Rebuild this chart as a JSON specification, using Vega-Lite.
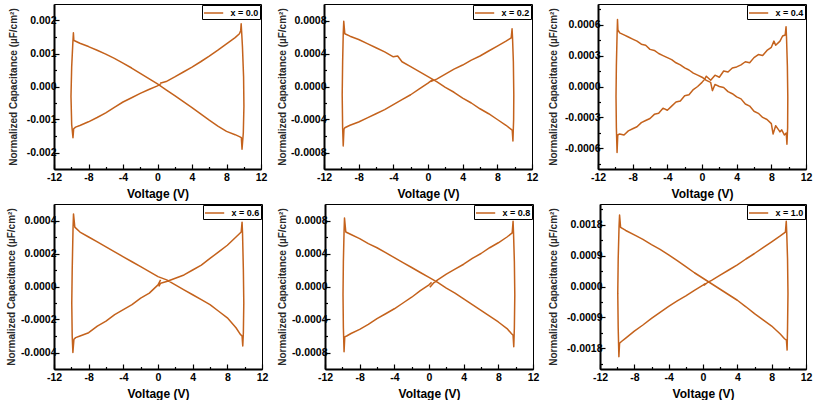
{
  "$schema": "https://vega.github.io/schema/vega-lite/v6.json",
  "padding": {"left": 5, "top": 3, "right": 0, "bottom": 0},
  "config": {
    "view": {"stroke": "black", "strokeWidth": 1},
    "font": "Liberation Sans",
    "locale": {"number": {"decimal": ".", "thousands": ",", "grouping": [3], "currency": ["$", ""], "minus": "-"}},
    "axis": {"grid": false, "domainColor": "black", "domainWidth": 2, "tickColor": "black", "tickWidth": 1.2, "labelFont": "Liberation Sans", "labelFontSize": 10.5, "labelFontWeight": "bold", "labelColor": "black", "titleFont": "Liberation Sans", "titleFontWeight": "bold", "titleColor": "black", "labelFlush": false, "labelOverlap": false},
    "axisX": {"titleFontSize": 12, "labelPadding": 8, "titlePadding": 3},
    "axisY": {"titleFontSize": 10, "titleColor": "#2a2a2a", "labelPadding": 3, "titlePadding": 3},
    "legend": {"orient": "top-right", "offset": 1, "title": null, "strokeColor": "black", "fillColor": "white", "padding": 1, "symbolType": "M-1.6,0L1.6,0", "symbolSize": 144, "symbolOffset": 3.6, "symbolStrokeWidth": 1.5, "labelOffset": 10, "labelFont": "Liberation Sans", "labelFontSize": 9, "labelFontWeight": "bold", "labelColor": "black"}
  },
  "resolve": {"scale": {"color": "independent"}, "legend": {"color": "independent"}},
  "data": {"values": [
    {"p":"x = 0.0","i":1,"V":0.3,"C":0.0001},{"p":"x = 0.0","i":2,"V":1,"C":0.00015},{"p":"x = 0.0","i":3,"V":2,"C":0.00029},{"p":"x = 0.0","i":4,"V":3,"C":0.00044},{"p":"x = 0.0","i":5,"V":4,"C":0.00059},{"p":"x = 0.0","i":6,"V":5,"C":0.00075},{"p":"x = 0.0","i":7,"V":6,"C":0.00092},{"p":"x = 0.0","i":8,"V":7,"C":0.0011},{"p":"x = 0.0","i":9,"V":8,"C":0.00129},{"p":"x = 0.0","i":10,"V":9,"C":0.00148},{"p":"x = 0.0","i":11,"V":9.5,"C":0.0016},{"p":"x = 0.0","i":12,"V":9.65,"C":0.0017},{"p":"x = 0.0","i":13,"V":9.7,"C":0.0019},{"p":"x = 0.0","i":14,"V":9.75,"C":0.00168},{"p":"x = 0.0","i":15,"V":9.85,"C":0.0012},{"p":"x = 0.0","i":16,"V":9.98,"C":0.0003},{"p":"x = 0.0","i":17,"V":10.02,"C":-0.0006},{"p":"x = 0.0","i":18,"V":9.95,"C":-0.0014},{"p":"x = 0.0","i":19,"V":9.8,"C":-0.0019},{"p":"x = 0.0","i":20,"V":9.72,"C":-0.00155},{"p":"x = 0.0","i":21,"V":9.5,"C":-0.00152},{"p":"x = 0.0","i":22,"V":9,"C":-0.00146},{"p":"x = 0.0","i":23,"V":8,"C":-0.00136},{"p":"x = 0.0","i":24,"V":7,"C":-0.0012},{"p":"x = 0.0","i":25,"V":6,"C":-0.00102},{"p":"x = 0.0","i":26,"V":5,"C":-0.00083},{"p":"x = 0.0","i":27,"V":4,"C":-0.00064},{"p":"x = 0.0","i":28,"V":3,"C":-0.00046},{"p":"x = 0.0","i":29,"V":2,"C":-0.00028},{"p":"x = 0.0","i":30,"V":1,"C":-0.0001},{"p":"x = 0.0","i":31,"V":0,"C":0.00008},{"p":"x = 0.0","i":32,"V":-1,"C":0.00024},{"p":"x = 0.0","i":33,"V":-2,"C":0.0004},{"p":"x = 0.0","i":34,"V":-3,"C":0.00056},{"p":"x = 0.0","i":35,"V":-4,"C":0.00071},{"p":"x = 0.0","i":36,"V":-5,"C":0.00085},{"p":"x = 0.0","i":37,"V":-6,"C":0.00098},{"p":"x = 0.0","i":38,"V":-7,"C":0.0011},{"p":"x = 0.0","i":39,"V":-8,"C":0.00121},{"p":"x = 0.0","i":40,"V":-9,"C":0.00131},{"p":"x = 0.0","i":41,"V":-9.55,"C":0.00138},{"p":"x = 0.0","i":42,"V":-9.7,"C":0.0014},{"p":"x = 0.0","i":43,"V":-9.75,"C":0.00163},{"p":"x = 0.0","i":44,"V":-9.82,"C":0.0013},{"p":"x = 0.0","i":45,"V":-9.95,"C":0.0006},{"p":"x = 0.0","i":46,"V":-10.03,"C":-0.0003},{"p":"x = 0.0","i":47,"V":-9.95,"C":-0.00115},{"p":"x = 0.0","i":48,"V":-9.8,"C":-0.00155},{"p":"x = 0.0","i":49,"V":-9.72,"C":-0.00128},{"p":"x = 0.0","i":50,"V":-9.5,"C":-0.00123},{"p":"x = 0.0","i":51,"V":-9,"C":-0.00118},{"p":"x = 0.0","i":52,"V":-8,"C":-0.00107},{"p":"x = 0.0","i":53,"V":-7,"C":-0.00094},{"p":"x = 0.0","i":54,"V":-6,"C":-0.0008},{"p":"x = 0.0","i":55,"V":-5,"C":-0.00063},{"p":"x = 0.0","i":56,"V":-4,"C":-0.00047},{"p":"x = 0.0","i":57,"V":-3,"C":-0.00034},{"p":"x = 0.0","i":58,"V":-2,"C":-0.00021},{"p":"x = 0.0","i":59,"V":-1,"C":-0.00009},{"p":"x = 0.0","i":60,"V":0,"C":0.00002},{"p":"x = 0.0","i":61,"V":0.4,"C":0.00009},

    {"p":"x = 0.2","i":1,"V":0.3,"C":0.00006},{"p":"x = 0.2","i":2,"V":1,"C":0.00009},{"p":"x = 0.2","i":3,"V":2,"C":0.00015},{"p":"x = 0.2","i":4,"V":3,"C":0.00021},{"p":"x = 0.2","i":5,"V":4,"C":0.00026},{"p":"x = 0.2","i":6,"V":5,"C":0.00032},{"p":"x = 0.2","i":7,"V":6,"C":0.00037},{"p":"x = 0.2","i":8,"V":7,"C":0.00043},{"p":"x = 0.2","i":9,"V":8,"C":0.00049},{"p":"x = 0.2","i":10,"V":9,"C":0.00055},{"p":"x = 0.2","i":11,"V":9.6,"C":0.00059},{"p":"x = 0.2","i":12,"V":9.7,"C":0.0007},{"p":"x = 0.2","i":13,"V":9.75,"C":0.0006},{"p":"x = 0.2","i":14,"V":9.85,"C":0.0003},{"p":"x = 0.2","i":15,"V":9.9,"C":-0.0001},{"p":"x = 0.2","i":16,"V":9.88,"C":-0.0004},{"p":"x = 0.2","i":17,"V":9.8,"C":-0.00066},{"p":"x = 0.2","i":18,"V":9.72,"C":-0.00053},{"p":"x = 0.2","i":19,"V":9.6,"C":-0.00052},{"p":"x = 0.2","i":20,"V":9,"C":-0.00047},{"p":"x = 0.2","i":21,"V":8,"C":-0.0004},{"p":"x = 0.2","i":22,"V":7,"C":-0.00033},{"p":"x = 0.2","i":23,"V":6,"C":-0.00027},{"p":"x = 0.2","i":24,"V":5,"C":-0.0002},{"p":"x = 0.2","i":25,"V":4,"C":-0.00014},{"p":"x = 0.2","i":26,"V":3,"C":-0.00007},{"p":"x = 0.2","i":27,"V":2,"C":-0.00001},{"p":"x = 0.2","i":28,"V":1,"C":0.00006},{"p":"x = 0.2","i":29,"V":0,"C":0.00012},{"p":"x = 0.2","i":30,"V":-1,"C":0.00018},{"p":"x = 0.2","i":31,"V":-2,"C":0.00024},{"p":"x = 0.2","i":32,"V":-3,"C":0.0003},{"p":"x = 0.2","i":33,"V":-3.5,"C":0.00037},{"p":"x = 0.2","i":34,"V":-4,"C":0.00036},{"p":"x = 0.2","i":35,"V":-5,"C":0.00042},{"p":"x = 0.2","i":36,"V":-6,"C":0.00047},{"p":"x = 0.2","i":37,"V":-7,"C":0.00052},{"p":"x = 0.2","i":38,"V":-8,"C":0.00057},{"p":"x = 0.2","i":39,"V":-9,"C":0.00061},{"p":"x = 0.2","i":40,"V":-9.6,"C":0.00064},{"p":"x = 0.2","i":41,"V":-9.72,"C":0.00079},{"p":"x = 0.2","i":42,"V":-9.78,"C":0.00064},{"p":"x = 0.2","i":43,"V":-9.85,"C":0.0003},{"p":"x = 0.2","i":44,"V":-9.9,"C":-0.0001},{"p":"x = 0.2","i":45,"V":-9.85,"C":-0.0005},{"p":"x = 0.2","i":46,"V":-9.78,"C":-0.00072},{"p":"x = 0.2","i":47,"V":-9.7,"C":-0.00052},{"p":"x = 0.2","i":48,"V":-9.6,"C":-0.0005},{"p":"x = 0.2","i":49,"V":-9,"C":-0.00047},{"p":"x = 0.2","i":50,"V":-8,"C":-0.00043},{"p":"x = 0.2","i":51,"V":-7,"C":-0.00038},{"p":"x = 0.2","i":52,"V":-6,"C":-0.00033},{"p":"x = 0.2","i":53,"V":-5,"C":-0.00028},{"p":"x = 0.2","i":54,"V":-4,"C":-0.00022},{"p":"x = 0.2","i":55,"V":-3,"C":-0.00016},{"p":"x = 0.2","i":56,"V":-2,"C":-0.0001},{"p":"x = 0.2","i":57,"V":-1,"C":-0.00003},{"p":"x = 0.2","i":58,"V":0,"C":0.00004},{"p":"x = 0.2","i":59,"V":0.5,"C":0.00008},

    {"p":"x = 0.4","i":1,"V":0.3,"C":0.00007},{"p":"x = 0.4","i":2,"V":0.5,"C":0.0001},{"p":"x = 0.4","i":3,"V":1,"C":0.00006},{"p":"x = 0.4","i":4,"V":1.5,"C":0.00011},{"p":"x = 0.4","i":5,"V":2,"C":0.00009},{"p":"x = 0.4","i":6,"V":2.5,"C":0.00015},{"p":"x = 0.4","i":7,"V":3,"C":0.00014},{"p":"x = 0.4","i":8,"V":3.5,"C":0.00018},{"p":"x = 0.4","i":9,"V":4,"C":0.00019},{"p":"x = 0.4","i":10,"V":4.5,"C":0.00021},{"p":"x = 0.4","i":11,"V":5,"C":0.00024},{"p":"x = 0.4","i":12,"V":5.5,"C":0.00023},{"p":"x = 0.4","i":13,"V":6,"C":0.00028},{"p":"x = 0.4","i":14,"V":6.5,"C":0.00031},{"p":"x = 0.4","i":15,"V":7,"C":0.0003},{"p":"x = 0.4","i":16,"V":7.5,"C":0.00035},{"p":"x = 0.4","i":17,"V":8,"C":0.00038},{"p":"x = 0.4","i":18,"V":8.3,"C":0.00044},{"p":"x = 0.4","i":19,"V":8.5,"C":0.0004},{"p":"x = 0.4","i":20,"V":9,"C":0.00044},{"p":"x = 0.4","i":21,"V":9.3,"C":0.00049},{"p":"x = 0.4","i":22,"V":9.6,"C":0.0005},{"p":"x = 0.4","i":23,"V":9.7,"C":0.00058},{"p":"x = 0.4","i":24,"V":9.75,"C":0.00048},{"p":"x = 0.4","i":25,"V":9.85,"C":0.0002},{"p":"x = 0.4","i":26,"V":9.9,"C":-0.0001},{"p":"x = 0.4","i":27,"V":9.88,"C":-0.0004},{"p":"x = 0.4","i":28,"V":9.8,"C":-0.00056},{"p":"x = 0.4","i":29,"V":9.72,"C":-0.00045},{"p":"x = 0.4","i":30,"V":9.5,"C":-0.00047},{"p":"x = 0.4","i":31,"V":9.2,"C":-0.00042},{"p":"x = 0.4","i":32,"V":9,"C":-0.00044},{"p":"x = 0.4","i":33,"V":8.5,"C":-0.00038},{"p":"x = 0.4","i":34,"V":8.2,"C":-0.00046},{"p":"x = 0.4","i":35,"V":8,"C":-0.00036},{"p":"x = 0.4","i":36,"V":7.5,"C":-0.00032},{"p":"x = 0.4","i":37,"V":7,"C":-0.0003},{"p":"x = 0.4","i":38,"V":6.5,"C":-0.00026},{"p":"x = 0.4","i":39,"V":6,"C":-0.00024},{"p":"x = 0.4","i":40,"V":5.5,"C":-0.00019},{"p":"x = 0.4","i":41,"V":5,"C":-0.00017},{"p":"x = 0.4","i":42,"V":4.5,"C":-0.00012},{"p":"x = 0.4","i":43,"V":4,"C":-0.0001},{"p":"x = 0.4","i":44,"V":3.5,"C":-0.00007},{"p":"x = 0.4","i":45,"V":3,"C":-0.00005},{"p":"x = 0.4","i":46,"V":2.5,"C":-0.00001},{"p":"x = 0.4","i":47,"V":2,"C":0},{"p":"x = 0.4","i":48,"V":1.5,"C":0.00002},{"p":"x = 0.4","i":49,"V":1.2,"C":-0.00004},{"p":"x = 0.4","i":50,"V":1,"C":0.00004},{"p":"x = 0.4","i":51,"V":0.5,"C":0.00006},{"p":"x = 0.4","i":52,"V":0,"C":0.00009},{"p":"x = 0.4","i":53,"V":-0.5,"C":0.00011},{"p":"x = 0.4","i":54,"V":-1,"C":0.00013},{"p":"x = 0.4","i":55,"V":-1.5,"C":0.00016},{"p":"x = 0.4","i":56,"V":-2,"C":0.00018},{"p":"x = 0.4","i":57,"V":-2.5,"C":0.00021},{"p":"x = 0.4","i":58,"V":-3,"C":0.00023},{"p":"x = 0.4","i":59,"V":-3.5,"C":0.00026},{"p":"x = 0.4","i":60,"V":-4,"C":0.00028},{"p":"x = 0.4","i":61,"V":-4.5,"C":0.0003},{"p":"x = 0.4","i":62,"V":-5,"C":0.00032},{"p":"x = 0.4","i":63,"V":-5.5,"C":0.00035},{"p":"x = 0.4","i":64,"V":-6,"C":0.00036},{"p":"x = 0.4","i":65,"V":-6.5,"C":0.0004},{"p":"x = 0.4","i":66,"V":-7,"C":0.00041},{"p":"x = 0.4","i":67,"V":-7.5,"C":0.00044},{"p":"x = 0.4","i":68,"V":-8,"C":0.00046},{"p":"x = 0.4","i":69,"V":-8.5,"C":0.00048},{"p":"x = 0.4","i":70,"V":-9,"C":0.0005},{"p":"x = 0.4","i":71,"V":-9.5,"C":0.00052},{"p":"x = 0.4","i":72,"V":-9.7,"C":0.00055},{"p":"x = 0.4","i":73,"V":-9.75,"C":0.00065},{"p":"x = 0.4","i":74,"V":-9.8,"C":0.0005},{"p":"x = 0.4","i":75,"V":-9.88,"C":0.0002},{"p":"x = 0.4","i":76,"V":-9.92,"C":-0.0001},{"p":"x = 0.4","i":77,"V":-9.88,"C":-0.0004},{"p":"x = 0.4","i":78,"V":-9.8,"C":-0.00064},{"p":"x = 0.4","i":79,"V":-9.72,"C":-0.00047},{"p":"x = 0.4","i":80,"V":-9.5,"C":-0.00046},{"p":"x = 0.4","i":81,"V":-9,"C":-0.00047},{"p":"x = 0.4","i":82,"V":-8.5,"C":-0.00043},{"p":"x = 0.4","i":83,"V":-8,"C":-0.00041},{"p":"x = 0.4","i":84,"V":-7.5,"C":-0.00039},{"p":"x = 0.4","i":85,"V":-7,"C":-0.00035},{"p":"x = 0.4","i":86,"V":-6.5,"C":-0.00033},{"p":"x = 0.4","i":87,"V":-6,"C":-0.00031},{"p":"x = 0.4","i":88,"V":-5.5,"C":-0.00027},{"p":"x = 0.4","i":89,"V":-5,"C":-0.00026},{"p":"x = 0.4","i":90,"V":-4.5,"C":-0.00021},{"p":"x = 0.4","i":91,"V":-4,"C":-0.00023},{"p":"x = 0.4","i":92,"V":-3.5,"C":-0.00019},{"p":"x = 0.4","i":93,"V":-3,"C":-0.00015},{"p":"x = 0.4","i":94,"V":-2.5,"C":-0.00014},{"p":"x = 0.4","i":95,"V":-2,"C":-0.00009},{"p":"x = 0.4","i":96,"V":-1.5,"C":-0.00008},{"p":"x = 0.4","i":97,"V":-1,"C":-0.00003},{"p":"x = 0.4","i":98,"V":-0.5,"C":0},{"p":"x = 0.4","i":99,"V":0,"C":0.00004},{"p":"x = 0.4","i":100,"V":0.3,"C":0.00007},

    {"p":"x = 0.6","i":1,"V":0.1,"C":0},{"p":"x = 0.6","i":2,"V":0.3,"C":0.00002},{"p":"x = 0.6","i":3,"V":1,"C":0.00003},{"p":"x = 0.6","i":4,"V":2,"C":0.00005},{"p":"x = 0.6","i":5,"V":3,"C":0.00007},{"p":"x = 0.6","i":6,"V":4,"C":0.0001},{"p":"x = 0.6","i":7,"V":5,"C":0.00013},{"p":"x = 0.6","i":8,"V":6,"C":0.00017},{"p":"x = 0.6","i":9,"V":7,"C":0.00021},{"p":"x = 0.6","i":10,"V":8,"C":0.00025},{"p":"x = 0.6","i":11,"V":9,"C":0.0003},{"p":"x = 0.6","i":12,"V":9.6,"C":0.00033},{"p":"x = 0.6","i":13,"V":9.7,"C":0.00039},{"p":"x = 0.6","i":14,"V":9.75,"C":0.00033},{"p":"x = 0.6","i":15,"V":9.85,"C":0.0001},{"p":"x = 0.6","i":16,"V":9.9,"C":-0.0001},{"p":"x = 0.6","i":17,"V":9.85,"C":-0.00028},{"p":"x = 0.6","i":18,"V":9.78,"C":-0.00036},{"p":"x = 0.6","i":19,"V":9.7,"C":-0.0003},{"p":"x = 0.6","i":20,"V":9.5,"C":-0.00029},{"p":"x = 0.6","i":21,"V":9,"C":-0.00025},{"p":"x = 0.6","i":22,"V":8,"C":-0.00019},{"p":"x = 0.6","i":23,"V":7,"C":-0.00015},{"p":"x = 0.6","i":24,"V":6,"C":-0.00011},{"p":"x = 0.6","i":25,"V":5,"C":-0.00008},{"p":"x = 0.6","i":26,"V":4,"C":-0.00005},{"p":"x = 0.6","i":27,"V":3,"C":-0.00002},{"p":"x = 0.6","i":28,"V":2,"C":0.00001},{"p":"x = 0.6","i":29,"V":1,"C":0.00004},{"p":"x = 0.6","i":30,"V":0,"C":0.00006},{"p":"x = 0.6","i":31,"V":-1,"C":0.00009},{"p":"x = 0.6","i":32,"V":-2,"C":0.00012},{"p":"x = 0.6","i":33,"V":-3,"C":0.00015},{"p":"x = 0.6","i":34,"V":-4,"C":0.00018},{"p":"x = 0.6","i":35,"V":-5,"C":0.00021},{"p":"x = 0.6","i":36,"V":-6,"C":0.00024},{"p":"x = 0.6","i":37,"V":-7,"C":0.00027},{"p":"x = 0.6","i":38,"V":-8,"C":0.0003},{"p":"x = 0.6","i":39,"V":-9,"C":0.00033},{"p":"x = 0.6","i":40,"V":-9.6,"C":0.00036},{"p":"x = 0.6","i":41,"V":-9.75,"C":0.00044},{"p":"x = 0.6","i":42,"V":-9.8,"C":0.00036},{"p":"x = 0.6","i":43,"V":-9.9,"C":0.0001},{"p":"x = 0.6","i":44,"V":-9.95,"C":-0.0001},{"p":"x = 0.6","i":45,"V":-9.9,"C":-0.0003},{"p":"x = 0.6","i":46,"V":-9.82,"C":-0.0004},{"p":"x = 0.6","i":47,"V":-9.7,"C":-0.00032},{"p":"x = 0.6","i":48,"V":-9.5,"C":-0.00031},{"p":"x = 0.6","i":49,"V":-9,"C":-0.0003},{"p":"x = 0.6","i":50,"V":-8,"C":-0.00028},{"p":"x = 0.6","i":51,"V":-7,"C":-0.00024},{"p":"x = 0.6","i":52,"V":-6,"C":-0.00021},{"p":"x = 0.6","i":53,"V":-5,"C":-0.00017},{"p":"x = 0.6","i":54,"V":-4,"C":-0.00014},{"p":"x = 0.6","i":55,"V":-3,"C":-0.00011},{"p":"x = 0.6","i":56,"V":-2,"C":-0.00007},{"p":"x = 0.6","i":57,"V":-1,"C":-0.00004},{"p":"x = 0.6","i":58,"V":0,"C":0.00001},{"p":"x = 0.6","i":59,"V":0.3,"C":0.00004},

    {"p":"x = 0.8","i":1,"V":0.1,"C":-0.00001},{"p":"x = 0.8","i":2,"V":0.5,"C":0.00004},{"p":"x = 0.8","i":3,"V":1,"C":0.00008},{"p":"x = 0.8","i":4,"V":2,"C":0.00015},{"p":"x = 0.8","i":5,"V":3,"C":0.00021},{"p":"x = 0.8","i":6,"V":4,"C":0.00027},{"p":"x = 0.8","i":7,"V":5,"C":0.00034},{"p":"x = 0.8","i":8,"V":6,"C":0.0004},{"p":"x = 0.8","i":9,"V":7,"C":0.00047},{"p":"x = 0.8","i":10,"V":8,"C":0.00053},{"p":"x = 0.8","i":11,"V":9,"C":0.0006},{"p":"x = 0.8","i":12,"V":9.6,"C":0.00065},{"p":"x = 0.8","i":13,"V":9.7,"C":0.00079},{"p":"x = 0.8","i":14,"V":9.75,"C":0.00066},{"p":"x = 0.8","i":15,"V":9.85,"C":0.0003},{"p":"x = 0.8","i":16,"V":9.9,"C":-0.0001},{"p":"x = 0.8","i":17,"V":9.85,"C":-0.0005},{"p":"x = 0.8","i":18,"V":9.78,"C":-0.00073},{"p":"x = 0.8","i":19,"V":9.7,"C":-0.00059},{"p":"x = 0.8","i":20,"V":9.5,"C":-0.00057},{"p":"x = 0.8","i":21,"V":9,"C":-0.00051},{"p":"x = 0.8","i":22,"V":8,"C":-0.00043},{"p":"x = 0.8","i":23,"V":7,"C":-0.00036},{"p":"x = 0.8","i":24,"V":6,"C":-0.00029},{"p":"x = 0.8","i":25,"V":5,"C":-0.00022},{"p":"x = 0.8","i":26,"V":4,"C":-0.00015},{"p":"x = 0.8","i":27,"V":3,"C":-0.00008},{"p":"x = 0.8","i":28,"V":2,"C":-0.00002},{"p":"x = 0.8","i":29,"V":1,"C":0.00005},{"p":"x = 0.8","i":30,"V":0,"C":0.00011},{"p":"x = 0.8","i":31,"V":-1,"C":0.00017},{"p":"x = 0.8","i":32,"V":-2,"C":0.00023},{"p":"x = 0.8","i":33,"V":-3,"C":0.00029},{"p":"x = 0.8","i":34,"V":-4,"C":0.00035},{"p":"x = 0.8","i":35,"V":-5,"C":0.00041},{"p":"x = 0.8","i":36,"V":-6,"C":0.00047},{"p":"x = 0.8","i":37,"V":-7,"C":0.00052},{"p":"x = 0.8","i":38,"V":-8,"C":0.00058},{"p":"x = 0.8","i":39,"V":-9,"C":0.00063},{"p":"x = 0.8","i":40,"V":-9.6,"C":0.00066},{"p":"x = 0.8","i":41,"V":-9.75,"C":0.00083},{"p":"x = 0.8","i":42,"V":-9.8,"C":0.00067},{"p":"x = 0.8","i":43,"V":-9.88,"C":0.0003},{"p":"x = 0.8","i":44,"V":-9.92,"C":-0.0001},{"p":"x = 0.8","i":45,"V":-9.88,"C":-0.0005},{"p":"x = 0.8","i":46,"V":-9.8,"C":-0.00079},{"p":"x = 0.8","i":47,"V":-9.72,"C":-0.00061},{"p":"x = 0.8","i":48,"V":-9.5,"C":-0.0006},{"p":"x = 0.8","i":49,"V":-9,"C":-0.00057},{"p":"x = 0.8","i":50,"V":-8,"C":-0.00052},{"p":"x = 0.8","i":51,"V":-7,"C":-0.00046},{"p":"x = 0.8","i":52,"V":-6,"C":-0.00039},{"p":"x = 0.8","i":53,"V":-5,"C":-0.00033},{"p":"x = 0.8","i":54,"V":-4,"C":-0.00027},{"p":"x = 0.8","i":55,"V":-3,"C":-0.0002},{"p":"x = 0.8","i":56,"V":-2,"C":-0.00013},{"p":"x = 0.8","i":57,"V":-1,"C":-0.00005},{"p":"x = 0.8","i":58,"V":0,"C":0.00002},{"p":"x = 0.8","i":59,"V":0.3,"C":0.00005},

    {"p":"x = 1.0","i":1,"V":0.1,"C":0.00003},{"p":"x = 1.0","i":2,"V":0.5,"C":0.00011},{"p":"x = 1.0","i":3,"V":1,"C":0.00018},{"p":"x = 1.0","i":4,"V":2,"C":0.00033},{"p":"x = 1.0","i":5,"V":3,"C":0.00048},{"p":"x = 1.0","i":6,"V":4,"C":0.00063},{"p":"x = 1.0","i":7,"V":5,"C":0.0008},{"p":"x = 1.0","i":8,"V":6,"C":0.00096},{"p":"x = 1.0","i":9,"V":7,"C":0.00113},{"p":"x = 1.0","i":10,"V":8,"C":0.0013},{"p":"x = 1.0","i":11,"V":9,"C":0.00147},{"p":"x = 1.0","i":12,"V":9.6,"C":0.00158},{"p":"x = 1.0","i":13,"V":9.7,"C":0.0019},{"p":"x = 1.0","i":14,"V":9.75,"C":0.0016},{"p":"x = 1.0","i":15,"V":9.85,"C":0.0008},{"p":"x = 1.0","i":16,"V":9.9,"C":-0.0002},{"p":"x = 1.0","i":17,"V":9.85,"C":-0.0012},{"p":"x = 1.0","i":18,"V":9.8,"C":-0.00185},{"p":"x = 1.0","i":19,"V":9.72,"C":-0.00156},{"p":"x = 1.0","i":20,"V":9.5,"C":-0.00152},{"p":"x = 1.0","i":21,"V":9,"C":-0.00138},{"p":"x = 1.0","i":22,"V":8,"C":-0.00115},{"p":"x = 1.0","i":23,"V":7,"C":-0.00097},{"p":"x = 1.0","i":24,"V":6,"C":-0.00079},{"p":"x = 1.0","i":25,"V":5,"C":-0.00059},{"p":"x = 1.0","i":26,"V":4,"C":-0.0004},{"p":"x = 1.0","i":27,"V":3,"C":-0.00024},{"p":"x = 1.0","i":28,"V":2,"C":-0.00008},{"p":"x = 1.0","i":29,"V":1,"C":0.00008},{"p":"x = 1.0","i":30,"V":0,"C":0.00024},{"p":"x = 1.0","i":31,"V":-1,"C":0.0004},{"p":"x = 1.0","i":32,"V":-2,"C":0.00058},{"p":"x = 1.0","i":33,"V":-3,"C":0.00075},{"p":"x = 1.0","i":34,"V":-4,"C":0.00092},{"p":"x = 1.0","i":35,"V":-5,"C":0.00108},{"p":"x = 1.0","i":36,"V":-6,"C":0.00122},{"p":"x = 1.0","i":37,"V":-7,"C":0.00137},{"p":"x = 1.0","i":38,"V":-8,"C":0.0015},{"p":"x = 1.0","i":39,"V":-9,"C":0.00163},{"p":"x = 1.0","i":40,"V":-9.6,"C":0.00172},{"p":"x = 1.0","i":41,"V":-9.72,"C":0.00208},{"p":"x = 1.0","i":42,"V":-9.78,"C":0.00175},{"p":"x = 1.0","i":43,"V":-9.88,"C":0.0008},{"p":"x = 1.0","i":44,"V":-9.93,"C":-0.0002},{"p":"x = 1.0","i":45,"V":-9.88,"C":-0.0012},{"p":"x = 1.0","i":46,"V":-9.8,"C":-0.00204},{"p":"x = 1.0","i":47,"V":-9.72,"C":-0.00165},{"p":"x = 1.0","i":48,"V":-9.5,"C":-0.0016},{"p":"x = 1.0","i":49,"V":-9,"C":-0.0015},{"p":"x = 1.0","i":50,"V":-8,"C":-0.0013},{"p":"x = 1.0","i":51,"V":-7,"C":-0.00112},{"p":"x = 1.0","i":52,"V":-6,"C":-0.00093},{"p":"x = 1.0","i":53,"V":-5,"C":-0.00075},{"p":"x = 1.0","i":54,"V":-4,"C":-0.00058},{"p":"x = 1.0","i":55,"V":-3,"C":-0.00042},{"p":"x = 1.0","i":56,"V":-2,"C":-0.00027},{"p":"x = 1.0","i":57,"V":-1,"C":-0.00011},{"p":"x = 1.0","i":58,"V":0,"C":0.00004},{"p":"x = 1.0","i":59,"V":0.3,"C":0.00009}
  ]},
  "spacing": 3,
  "vconcat": [
    {
      "spacing": 8,
      "resolve": {"scale": {"color": "independent"}, "legend": {"color": "independent"}},
      "hconcat": [
        {
          "width": 207, "height": 165,
          "transform": [{"filter": "datum.p == 'x = 0.0'"}],
          "mark": {"type": "line", "strokeWidth": 1.5, "strokeJoin": "round"},
          "encoding": {
            "x": {"field": "V", "type": "quantitative", "scale": {"domain": [-12, 12], "nice": false, "zero": false},
              "axis": {"title": "Voltage (V)", "values": [-12,-10,-8,-6,-4,-2,0,2,4,6,8,10,12], "labelExpr": "round(datum.value/2) % 2 == 0 ? datum.label : ''", "tickSize": {"condition": {"test": "round(datum.value/2) % 2 != 0", "value": -2.5}, "value": -5}}},
            "y": {"field": "C", "type": "quantitative", "scale": {"domain": [-0.0025, 0.0025], "nice": false, "zero": false},
              "axis": {"title": "Normalized Capacitance (µF/cm²)", "titlePadding": 8, "format": ".3f", "values": [-0.002,-0.0015,-0.001,-0.0005,0,0.0005,0.001,0.0015,0.002], "labelExpr": "round(datum.value/0.0005) % 2 == 0 ? datum.label : ''", "tickSize": {"condition": {"test": "round(datum.value/0.0005) % 2 != 0", "value": -2.5}, "value": -5}}},
            "order": {"field": "i", "type": "quantitative"},
            "color": {"field": "p", "type": "nominal", "scale": {"range": ["#c4621c"]}}
          }
        },
        {
          "width": 208, "height": 165,
          "transform": [{"filter": "datum.p == 'x = 0.2'"}],
          "mark": {"type": "line", "strokeWidth": 1.5, "strokeJoin": "round"},
          "encoding": {
            "x": {"field": "V", "type": "quantitative", "scale": {"domain": [-12, 12], "nice": false, "zero": false},
              "axis": {"title": "Voltage (V)", "values": [-12,-10,-8,-6,-4,-2,0,2,4,6,8,10,12], "labelExpr": "round(datum.value/2) % 2 == 0 ? datum.label : ''", "tickSize": {"condition": {"test": "round(datum.value/2) % 2 != 0", "value": -2.5}, "value": -5}}},
            "y": {"field": "C", "type": "quantitative", "scale": {"domain": [-0.001, 0.001], "nice": false, "zero": false},
              "axis": {"title": "Normalized Capacitance (µF/cm²)", "titlePadding": 3, "format": ".4f", "values": [-0.0008,-0.0006,-0.0004,-0.0002,0,0.0002,0.0004,0.0006,0.0008], "labelExpr": "round(datum.value/0.0002) % 2 == 0 ? datum.label : ''", "tickSize": {"condition": {"test": "round(datum.value/0.0002) % 2 != 0", "value": -2.5}, "value": -5}}},
            "order": {"field": "i", "type": "quantitative"},
            "color": {"field": "p", "type": "nominal", "scale": {"range": ["#c4621c"]}}
          }
        },
        {
          "width": 208, "height": 165,
          "transform": [{"filter": "datum.p == 'x = 0.4'"}],
          "mark": {"type": "line", "strokeWidth": 1.5, "strokeJoin": "round"},
          "encoding": {
            "x": {"field": "V", "type": "quantitative", "scale": {"domain": [-12, 12], "nice": false, "zero": false},
              "axis": {"title": "Voltage (V)", "values": [-12,-10,-8,-6,-4,-2,0,2,4,6,8,10,12], "labelExpr": "round(datum.value/2) % 2 == 0 ? datum.label : ''", "tickSize": {"condition": {"test": "round(datum.value/2) % 2 != 0", "value": -2.5}, "value": -5}}},
            "y": {"field": "C", "type": "quantitative", "scale": {"domain": [-0.0008, 0.0008], "nice": false, "zero": false},
              "axis": {"title": "Normalized Capacitance (µF/cm²)", "titlePadding": 6, "format": ".4f", "values": [-0.00075,-0.0006,-0.00045,-0.0003,-0.00015,0,0.00015,0.0003,0.00045,0.0006,0.00075], "labelExpr": "round(datum.value/0.00015) % 2 == 0 ? datum.label : ''", "tickSize": {"condition": {"test": "round(datum.value/0.00015) % 2 != 0", "value": -2.5}, "value": -5}}},
            "order": {"field": "i", "type": "quantitative"},
            "color": {"field": "p", "type": "nominal", "scale": {"range": ["#c4621c"]}}
          }
        }
      ]
    },
    {
      "spacing": 7,
      "resolve": {"scale": {"color": "independent"}, "legend": {"color": "independent"}},
      "hconcat": [
        {
          "width": 208, "height": 165,
          "transform": [{"filter": "datum.p == 'x = 0.6'"}],
          "mark": {"type": "line", "strokeWidth": 1.5, "strokeJoin": "round"},
          "encoding": {
            "x": {"field": "V", "type": "quantitative", "scale": {"domain": [-12, 12], "nice": false, "zero": false},
              "axis": {"title": "Voltage (V)", "values": [-12,-10,-8,-6,-4,-2,0,2,4,6,8,10,12], "labelExpr": "round(datum.value/2) % 2 == 0 ? datum.label : ''", "tickSize": {"condition": {"test": "round(datum.value/2) % 2 != 0", "value": -2.5}, "value": -5}}},
            "y": {"field": "C", "type": "quantitative", "scale": {"domain": [-0.0005, 0.0005], "nice": false, "zero": false},
              "axis": {"title": "Normalized Capacitance (µF/cm²)", "titlePadding": 4, "format": ".4f", "values": [-0.0004,-0.0003,-0.0002,-0.0001,0,0.0001,0.0002,0.0003,0.0004], "labelExpr": "round(datum.value/0.0001) % 2 == 0 ? datum.label : ''", "tickSize": {"condition": {"test": "round(datum.value/0.0001) % 2 != 0", "value": -2.5}, "value": -5}}},
            "order": {"field": "i", "type": "quantitative"},
            "color": {"field": "p", "type": "nominal", "scale": {"range": ["#c4621c"]}}
          }
        },
        {
          "width": 208, "height": 165,
          "transform": [{"filter": "datum.p == 'x = 0.8'"}],
          "mark": {"type": "line", "strokeWidth": 1.5, "strokeJoin": "round"},
          "encoding": {
            "x": {"field": "V", "type": "quantitative", "scale": {"domain": [-12, 12], "nice": false, "zero": false},
              "axis": {"title": "Voltage (V)", "values": [-12,-10,-8,-6,-4,-2,0,2,4,6,8,10,12], "labelExpr": "round(datum.value/2) % 2 == 0 ? datum.label : ''", "tickSize": {"condition": {"test": "round(datum.value/2) % 2 != 0", "value": -2.5}, "value": -5}}},
            "y": {"field": "C", "type": "quantitative", "scale": {"domain": [-0.001, 0.001], "nice": false, "zero": false},
              "axis": {"title": "Normalized Capacitance (µF/cm²)", "titlePadding": 4, "format": ".4f", "values": [-0.0008,-0.0006,-0.0004,-0.0002,0,0.0002,0.0004,0.0006,0.0008], "labelExpr": "round(datum.value/0.0002) % 2 == 0 ? datum.label : ''", "tickSize": {"condition": {"test": "round(datum.value/0.0002) % 2 != 0", "value": -2.5}, "value": -5}}},
            "order": {"field": "i", "type": "quantitative"},
            "color": {"field": "p", "type": "nominal", "scale": {"range": ["#c4621c"]}}
          }
        },
        {
          "width": 206, "height": 165,
          "transform": [{"filter": "datum.p == 'x = 1.0'"}],
          "mark": {"type": "line", "strokeWidth": 1.5, "strokeJoin": "round"},
          "encoding": {
            "x": {"field": "V", "type": "quantitative", "scale": {"domain": [-12, 12], "nice": false, "zero": false},
              "axis": {"title": "Voltage (V)", "values": [-12,-10,-8,-6,-4,-2,0,2,4,6,8,10,12], "labelExpr": "round(datum.value/2) % 2 == 0 ? datum.label : ''", "tickSize": {"condition": {"test": "round(datum.value/2) % 2 != 0", "value": -2.5}, "value": -5}}},
            "y": {"field": "C", "type": "quantitative", "scale": {"domain": [-0.0024, 0.0024], "nice": false, "zero": false},
              "axis": {"title": "Normalized Capacitance (µF/cm²)", "titlePadding": 8, "format": ".4f", "values": [-0.00225,-0.0018,-0.00135,-0.0009,-0.00045,0,0.00045,0.0009,0.00135,0.0018,0.00225], "labelExpr": "round(datum.value/0.00045) % 2 == 0 ? datum.label : ''", "tickSize": {"condition": {"test": "round(datum.value/0.00045) % 2 != 0", "value": -2.5}, "value": -5}}},
            "order": {"field": "i", "type": "quantitative"},
            "color": {"field": "p", "type": "nominal", "scale": {"range": ["#c4621c"]}}
          }
        }
      ]
    }
  ]
}
